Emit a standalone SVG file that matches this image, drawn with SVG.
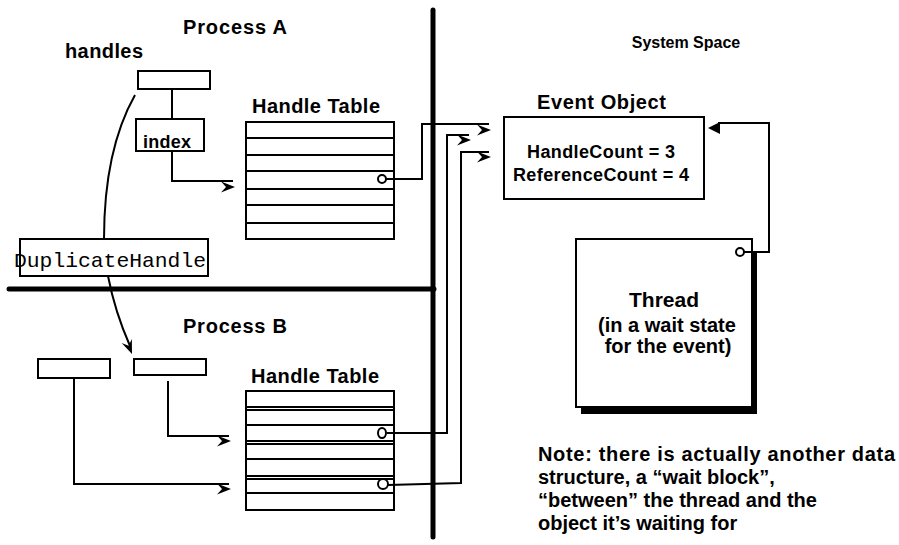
<svg xmlns="http://www.w3.org/2000/svg" xmlns:xlink="http://www.w3.org/1999/xlink" width="899" height="545" viewBox="0 0 899 545">
<style>
.t{font-family:"Liberation Sans",Arial,sans-serif;font-weight:bold;fill:#000}
.box{fill:#fff;stroke:#000;stroke-width:2}
.ln{fill:none;stroke:#000;stroke-width:2}
.row{stroke:#000;stroke-width:2}
.div{stroke:#000;stroke-width:5;stroke-linecap:round}
.mono{font-family:"Liberation Mono","DejaVu Sans Mono",monospace;fill:#000}
</style>
<defs>
<path id="ah" d="M0,0 L-14,-5.5 L-9,0 L-14,5.5 Z" fill="#000"/>
</defs>
<rect width="899" height="545" fill="#fff"/>

<g id="dividers">
<line class="div" x1="433" y1="10" x2="433" y2="537"/>
<line class="div" x1="9" y1="289" x2="434" y2="289"/>
</g>

<g id="labels">
<text class="t" x="183" y="34" font-size="20" textLength="104">Process A</text>
<text class="t" x="65" y="58" font-size="20" textLength="78">handles</text>
<text class="t" x="183" y="333" font-size="20" textLength="104">Process B</text>
<text class="t" x="686" y="48" font-size="16" text-anchor="middle">System Space</text>
<text class="t" x="538" y="461" font-size="20" textLength="357">Note: there is actually another data</text>
<text class="t" x="538" y="484" font-size="20">structure, a “wait block”,</text>
<text class="t" x="538" y="507" font-size="20">“between” the thread and the</text>
<text class="t" x="538" y="530" font-size="20">object it’s waiting for</text>
</g>

<g id="handlesA">
<rect class="box" x="138" y="71" width="72" height="18"/>
</g>
<g id="indexBox">
<rect class="box" x="136" y="119" width="68" height="32"/>
<text class="t" x="143" y="148" font-size="18" textLength="48">index</text>
</g>

<g id="tableA">
<text class="t" x="252" y="113" font-size="20" textLength="128">Handle Table</text>
<rect class="box" x="246" y="122" width="148" height="117"/>
<line class="row" x1="246" y1="138" x2="394" y2="138"/>
<line class="row" x1="246" y1="155" x2="394" y2="155"/>
<line class="row" x1="246" y1="171" x2="394" y2="171"/>
<line class="row" x1="246" y1="189" x2="394" y2="189"/>
<line class="row" x1="246" y1="205" x2="394" y2="205"/>
<line class="row" x1="246" y1="223" x2="394" y2="223"/>
<circle cx="382" cy="179" r="4" fill="#fff" stroke="#000" stroke-width="2"/>
</g>

<g id="dupHandle">
<rect class="box" x="20" y="239" width="188" height="37"/>
<text class="mono" x="14" y="267" font-size="21" textLength="192" lengthAdjust="spacingAndGlyphs">DuplicateHandle</text>
</g>

<g id="handlesB1">
<rect class="box" x="38" y="359" width="72" height="19"/>
</g>
<g id="handlesB2">
<rect class="box" x="134" y="359" width="72" height="16"/>
</g>

<g id="tableB">
<text class="t" x="251" y="383" font-size="20" textLength="128">Handle Table</text>
<rect class="box" x="246" y="391" width="148" height="119"/>
<line class="row" x1="246" y1="407" x2="394" y2="407"/>
<line class="row" x1="246" y1="410" x2="394" y2="410"/>
<line class="row" x1="246" y1="425" x2="394" y2="425"/>
<line class="row" x1="246" y1="441" x2="394" y2="441"/>
<line class="row" x1="246" y1="444" x2="394" y2="444"/>
<line class="row" x1="246" y1="459" x2="394" y2="459"/>
<line class="row" x1="246" y1="476" x2="394" y2="476"/>
<line class="row" x1="246" y1="479" x2="394" y2="479"/>
<line class="row" x1="246" y1="493" x2="394" y2="493"/>
<ellipse cx="382" cy="433" rx="4" ry="5" fill="#fff" stroke="#000" stroke-width="2"/>
<ellipse cx="383" cy="484" rx="5" ry="5" fill="#fff" stroke="#000" stroke-width="2"/>
</g>

<g id="eventObject">
<text class="t" x="537" y="109" font-size="20" textLength="129">Event Object</text>
<rect class="box" x="504" y="117" width="200" height="82"/>
<text class="t" x="527" y="158" font-size="18" textLength="148">HandleCount = 3</text>
<text class="t" x="513" y="181" font-size="18" textLength="176">ReferenceCount = 4</text>
</g>

<g id="thread">
<rect x="581" y="251" width="176" height="163" fill="#000"/>
<rect class="box" x="576" y="239" width="176" height="168"/>
<circle cx="740" cy="252" r="4" fill="#fff" stroke="#000" stroke-width="2"/>
<text class="t" x="664" y="307" font-size="21" text-anchor="middle">Thread</text>
<text class="t" x="667" y="332" font-size="20" text-anchor="middle">(in a wait state</text>
<text class="t" x="668" y="353" font-size="20" text-anchor="middle">for the event)</text>
</g>

<g id="connectors">
<line class="ln" x1="172" y1="89" x2="172" y2="119"/>
<polyline class="ln" points="172,151 172,181 233,181"/>
<use xlink:href="#ah" x="235" y="187"/>
<path class="ln" d="M135,95 Q104,150 104,239"/>
<path class="ln" d="M108,276 Q115,312 130,346"/>
<use xlink:href="#ah" transform="translate(132,354) rotate(68)"/>
<polyline class="ln" points="386,179 422,179 422,124 489,124"/>
<use xlink:href="#ah" x="491" y="130"/>
<polyline class="ln" points="387,433 447,433 447,135 469,135"/>
<use xlink:href="#ah" x="471" y="140"/>
<polyline class="ln" points="388,485 461,483 461,152 489,152"/>
<use xlink:href="#ah" x="491" y="157"/>
<polyline class="ln" points="168,381 168,436 229,436"/>
<use xlink:href="#ah" x="231" y="441"/>
<polyline class="ln" points="74,378 74,484 229,484"/>
<use xlink:href="#ah" x="231" y="489"/>
<polyline class="ln" points="744,252 769,252 769,123 718,123"/>
<path d="M708,128 L720,122 L720,134 Z" fill="#000"/>
</g>
</svg>
